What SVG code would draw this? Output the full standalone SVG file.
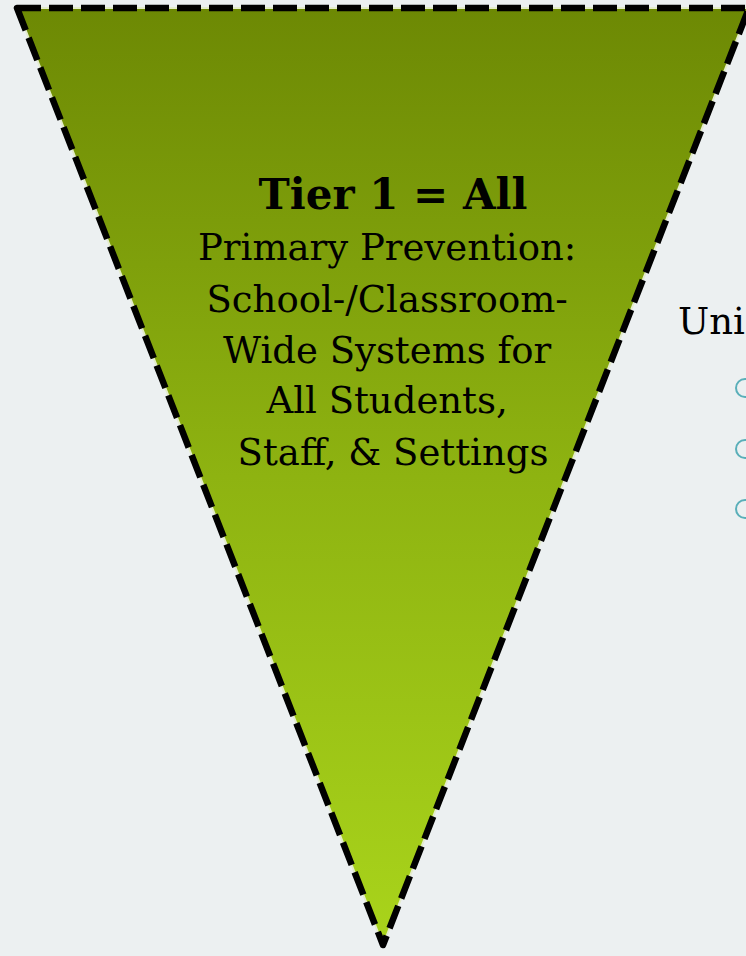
<svg xmlns="http://www.w3.org/2000/svg" width="746" height="956" viewBox="0 0 746 956">
  <defs>
    <linearGradient id="tierFill" x1="0" y1="8" x2="0" y2="945" gradientUnits="userSpaceOnUse">
      <stop offset="0" stop-color="#6D8904"/>
      <stop offset="0.5" stop-color="#8EB311"/>
      <stop offset="1" stop-color="#A9D41B"/>
    </linearGradient>
    <style>
      .title { font-family: "DejaVu Serif", Georgia, serif; font-weight: bold; font-size: 42px; fill: #000; }
      .body { font-family: "DejaVu Serif", Georgia, serif; font-size: 37px; fill: #000; }
      .side { font-family: "DejaVu Serif", Georgia, serif; font-size: 37px; fill: #000; }
      .bullet { fill: none; stroke: #5AAFB9; stroke-width: 2; }
    </style>
  </defs>
  <rect width="746" height="956" fill="#ECF0F1"/>

  <!-- Tier 1 inverted triangle -->
  <g id="tier1">
    <polygon points="17,8 749,8 383,945" fill="url(#tierFill)" stroke="#E4ECCB" stroke-width="2" stroke-linejoin="round"/>
    <polygon points="17,8 749,8 383,945" fill="none" stroke="#000" stroke-width="6.5" stroke-dasharray="24 8" stroke-linejoin="round"/>
    <text class="title" x="393" y="209" text-anchor="middle">Tier 1 = All</text>
    <text class="body" text-anchor="middle">
      <tspan x="393" y="260">Primary Prevention:</tspan>
      <tspan x="393" y="312">School-/Classroom-</tspan>
      <tspan x="393" y="363">Wide Systems for</tspan>
      <tspan x="393" y="413">All Students,</tspan>
      <tspan x="393" y="465">Staff, &amp; Settings</tspan>
    </text>
  </g>

  <!-- Side list, running off the right edge -->
  <g id="universal-list">
    <text class="side" x="678" y="334">Uni</text>
    <circle class="bullet" cx="745" cy="388" r="9"/>
    <circle class="bullet" cx="745" cy="449" r="9"/>
    <circle class="bullet" cx="745" cy="509" r="9"/>
  </g>

  <g id="connectors"/>
</svg>
